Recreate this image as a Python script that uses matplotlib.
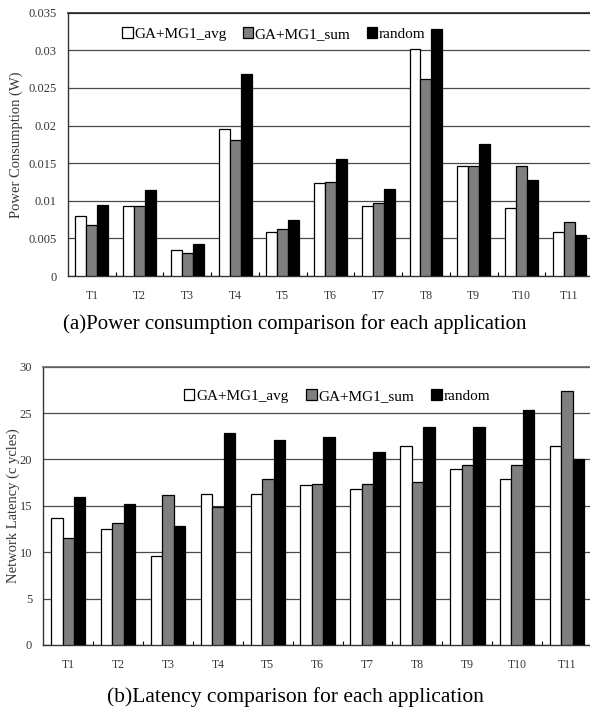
import matplotlib.pyplot as plt
import numpy as np
from matplotlib.ticker import FixedLocator, NullFormatter

plt.rcParams['font.family'] = ['Liberation Serif', 'DejaVu Serif']

# -----------------------------
# Data
# -----------------------------
tasks = ["T1", "T2", "T3", "T4", "T5", "T6", "T7", "T8", "T9", "T10", "T11"]
series_names = ["GA+MG1_avg", "GA+MG1_sum", "random"]

power_avg = [0.0080, 0.0093, 0.0034, 0.0196, 0.0058, 0.0123, 0.0093, 0.0302, 0.0146, 0.0091, 0.0058]
power_sum = [0.0068, 0.0093, 0.0030, 0.0181, 0.0063, 0.0125, 0.0097, 0.0262, 0.0146, 0.0146, 0.0072]
power_rnd = [0.0095, 0.0114, 0.0042, 0.0268, 0.0075, 0.0155, 0.0115, 0.0328, 0.0175, 0.0127, 0.0055]

lat_avg = [13.7, 12.5, 9.6, 16.3, 16.3, 17.2, 16.8, 21.4, 19.0, 17.9, 21.4]
lat_sum = [11.5, 13.2, 16.2, 14.9, 17.9, 17.4, 17.4, 17.6, 19.4, 19.4, 27.4]
lat_rnd = [15.9, 15.2, 12.8, 22.8, 22.1, 22.4, 20.8, 23.5, 23.5, 25.3, 20.1]

colors = ["white", "#7f7f7f", "black"]
tick_color = "#3d3530"


def draw_panel(ax, values, ymax, ystep, ylabel, legend_anchor, colspacing, labelpad):
    x = np.arange(len(tasks))
    w = 0.23
    bars = []
    for i, (vals, c) in enumerate(zip(values, colors)):
        b = ax.bar(x + (i - 1) * w, vals, width=w, color=c, edgecolor="black",
                   linewidth=0.9, label=series_names[i], zorder=3)
        bars.append(b)

    ax.set_xlim(-0.5, len(tasks) - 0.5)
    ax.set_ylim(0, ymax)
    ax.set_yticks(np.arange(0, ymax + ystep / 2, ystep))
    ax.yaxis.grid(True, color="#4a4a4a", linewidth=0.9, zorder=0)
    ax.set_axisbelow(True)

    ax.set_xticks(x)
    ax.set_xticklabels(tasks)
    ax.tick_params(axis="x", which="major", length=0, pad=10, labelsize=8.5,
                   labelcolor=tick_color)
    ax.xaxis.set_minor_locator(FixedLocator(np.arange(0.5, len(tasks) - 0.5, 1)))
    ax.xaxis.set_minor_formatter(NullFormatter())
    ax.tick_params(axis="x", which="minor", direction="in", length=3, width=0.8)
    ax.tick_params(axis="y", length=0, pad=8, labelsize=9, labelcolor=tick_color)

    for s in ["left", "bottom"]:
        ax.spines[s].set_color("#333333")
        ax.spines[s].set_linewidth(1.0)
    ax.spines["top"].set_color("#222222")
    ax.spines["top"].set_linewidth(1.2)
    ax.spines["right"].set_color("#555555")

    ax.set_ylabel(ylabel, fontsize=10.5, color=tick_color, labelpad=labelpad)

    ax.legend(handles=bars, loc="center left", bbox_to_anchor=legend_anchor,
              ncol=3, frameon=False, fontsize=11, handlelength=0.7,
              handleheight=0.7, handletextpad=0.1, columnspacing=colspacing,
              borderaxespad=0, borderpad=0)


fig = plt.figure(figsize=(5.9, 7.13), dpi=100)

ax1 = fig.add_axes([0.1153, 0.6129, 0.8898, 0.3693])
draw_panel(ax1, [power_avg, power_sum, power_rnd], 0.035, 0.005,
           "Power Consumption (W)", (0.103, 0.918), 1.05, 4)
ax1.set_yticklabels(["0", "0.005", "0.01", "0.015", "0.02", "0.025", "0.03", "0.035"])

ax2 = fig.add_axes([0.0734, 0.0954, 0.930, 0.3903])
draw_panel(ax2, [lat_avg, lat_sum, lat_rnd], 30, 5,
           "Network Latency (c ycles)", (0.256, 0.895), 1.15, 0)
ax2.spines["top"].set_color("#666666")

fig.text(0.5, 0.545, "(a)Power consumption comparison for each application",
         ha="center", va="center", fontsize=15)
fig.text(0.5, 0.022, "(b)Latency comparison for each application",
         ha="center", va="center", fontsize=15.5)

fig.savefig("out.png", dpi=100)
